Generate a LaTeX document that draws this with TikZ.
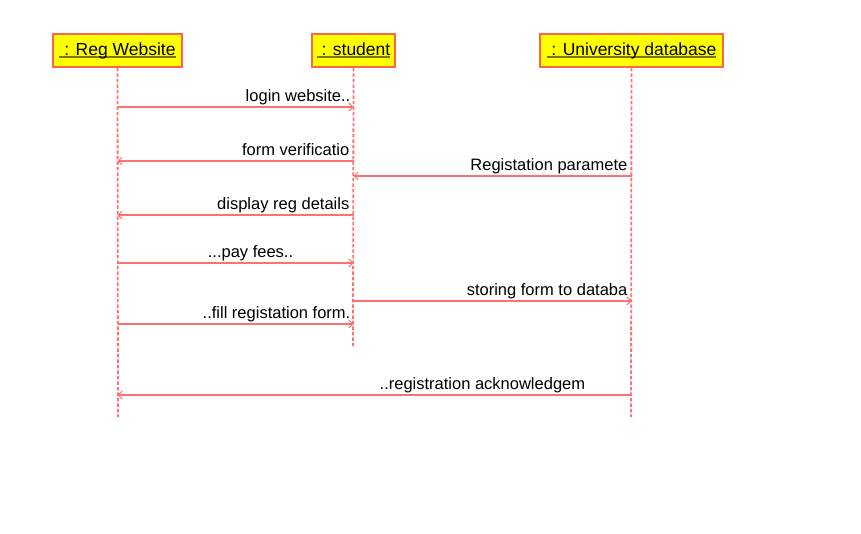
\documentclass[tikz,border=0pt]{standalone}
\usepackage{fontspec}
\setmainfont{Liberation Sans}
\usepackage{tikz}
\usetikzlibrary{arrows.meta}
\definecolor{lifered}{RGB}{255,112,112}
\definecolor{headred}{RGB}{255,100,80}
\definecolor{headyellow}{RGB}{255,255,0}
\definecolor{ulolive}{RGB}{120,120,0}
\newcommand{\objname}[1]{\setbox0\hbox{#1}\rlap{\color{ulolive}\rule[-3pt]{\wd0}{2pt}}\box0}
\tikzstyle{objhead} = [draw=headred, fill=headyellow, line width=1.5pt, rectangle, minimum height=33pt, inner xsep=3pt, font=\fontsize{17.5}{19}\selectfont]
\tikzstyle{lifeline} = [draw=lifered, line width=1.8pt, dash pattern=on 3.5pt off 2pt]
\tikzstyle{msg} = [draw=lifered, line width=1.5pt, -{Straight Barb[length=4pt,width=8pt,line width=1pt]}]
\tikzstyle{msglabel} = [inner sep=0pt, font=\fontsize{16.5}{18}\selectfont]

\begin{document}
\begin{tikzpicture}[x=1pt,y=-1pt]
	\useasboundingbox (0,0) rectangle (861,533);
	% object heads
	\node[objhead, minimum width=129pt](reg) at (117.5,50.5) {\objname{\ : Reg Website}};
	\node[objhead, minimum width=83pt](stu) at (353.5,50.5) {\objname{\ : student}};
	\node[objhead, minimum width=183pt](uni) at (631.5,50.5) {\objname{\ : University database}};
	% lifelines
	\coordinate (regend) at (118,417);
	\coordinate (stuend) at (353,346);
	\coordinate (uniend) at (631,417);
	\draw[lifeline] (reg.south) -- (regend);
	\draw[lifeline] (stu.south) -- (stuend);
	\draw[lifeline] (uni.south) -- (uniend);
	% message rows
	\coordinate (m1) at (0,107);
	\coordinate (m2) at (0,161);
	\coordinate (m3) at (0,176);
	\coordinate (m4) at (0,215);
	\coordinate (m5) at (0,263);
	\coordinate (m6) at (0,301);
	\coordinate (m7) at (0,324);
	\coordinate (m8) at (0,395);
	% messages
	\draw[msg] (reg |- m1) -- (stu |- m1);
	\node[msglabel, anchor=base east] at ([xshift=-3pt,yshift=6pt]stu |- m1) {login website..};
	\draw[msg] (stu |- m2) -- (reg |- m2);
	\node[msglabel, anchor=base east] at ([xshift=-4pt,yshift=6pt]stu |- m2) {form verificatio};
	\draw[msg] (uni |- m3) -- (stu |- m3);
	\node[msglabel, anchor=base east] at ([xshift=-4pt,yshift=6pt]uni |- m3) {Registation paramete};
	\draw[msg] (stu |- m4) -- (reg |- m4);
	\node[msglabel, anchor=base east] at ([xshift=-4pt,yshift=6pt]stu |- m4) {display reg details};
	\draw[msg] (reg |- m5) -- (stu |- m5);
	\node[msglabel, anchor=base] at ([xshift=133pt,yshift=6pt]reg |- m5) {...pay fees..};
	\draw[msg] (stu |- m6) -- (uni |- m6);
	\node[msglabel, anchor=base east] at ([xshift=-4pt,yshift=6pt]uni |- m6) {storing form to databa};
	\draw[msg] (reg |- m7) -- (stu |- m7);
	\node[msglabel, anchor=base east] at ([xshift=-3pt,yshift=6pt]stu |- m7) {..fill registation form.};
	\draw[msg] (uni |- m8) -- (reg |- m8);
	\node[msglabel, anchor=base west] at ([xshift=262pt,yshift=6pt]reg |- m8) {..registration acknowledgem};
\end{tikzpicture}
\end{document}
